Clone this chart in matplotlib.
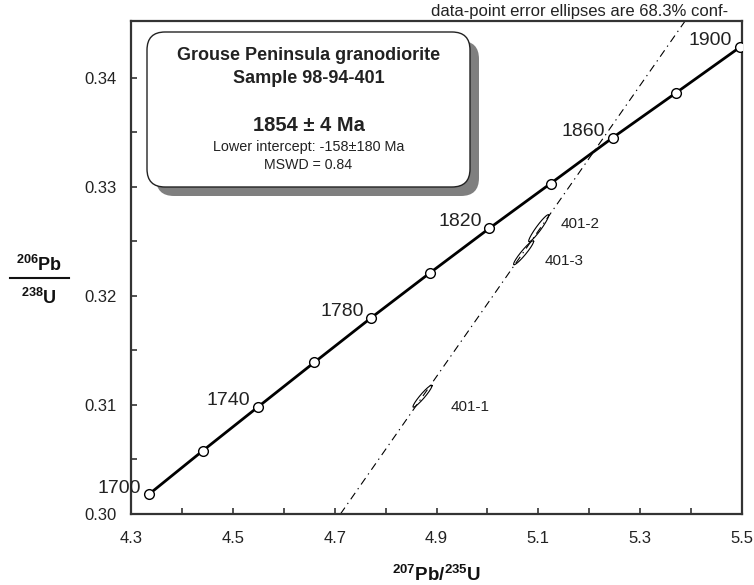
import numpy as np
import matplotlib
matplotlib.use("Agg")
import matplotlib.pyplot as plt
from matplotlib.patches import FancyBboxPatch
from matplotlib.lines import Line2D

# concordia ages (Ma) and ratios
ages = [1700, 1720, 1740, 1760, 1780, 1800, 1820, 1840, 1860, 1880, 1900]
pb207_u235 = [4.335, 4.441, 4.549, 4.660, 4.772, 4.887, 5.004, 5.124, 5.246, 5.370, 5.496]
pb206_u238 = [0.3018, 0.3058, 0.3098, 0.3139, 0.3180, 0.3221, 0.3262, 0.3303, 0.3345, 0.3386, 0.3428]
labelled_ages = [1700, 1740, 1780, 1820, 1860, 1900]

# discordia: upper and lower intercept points (207/235, 206/238)
upper_int = (5.2087, 0.33321)
lower_int = (-0.1441, -0.02421)

# analyses: centre x, centre y, sigma x, sigma y, rho
spots = ["401-1", "401-2", "401-3"]
spot_x = [4.8725, 5.1007, 5.0711]
spot_y = [0.31080, 0.32620, 0.32395]
spot_sx = [0.0187, 0.0197, 0.0197]
spot_sy = [0.00101, 0.00124, 0.00110]
spot_rho = [0.95, 0.95, 0.95]
spot_lab_x = [4.967, 5.183, 5.150]
spot_lab_y = [0.30982, 0.32661, 0.32321]

xticks = [4.3, 4.4, 4.5, 4.6, 4.7, 4.8, 4.9, 5.0, 5.1, 5.2, 5.3, 5.4, 5.5]
xticklabels = ["4.3", "", "4.5", "", "4.7", "", "4.9", "", "5.1", "", "5.3", "", "5.5"]
yticks = [0.300, 0.305, 0.310, 0.315, 0.320, 0.325, 0.330, 0.335, 0.340]
yticklabels = ["0.30", "", "0.31", "", "0.32", "", "0.33", "", "0.34"]

plt.rcParams["font.family"] = ["Liberation Sans", "DejaVu Sans"]
plt.rcParams["mathtext.fontset"] = "custom"
plt.rcParams["mathtext.rm"] = "Liberation Sans"
plt.rcParams["mathtext.bf"] = "Liberation Sans:bold"

fig = plt.figure(figsize=(7.54, 5.85), dpi=100)
ax = fig.add_axes([131 / 754, 1 - 514 / 585, 611 / 754, 493 / 585])
ax.set_xlim(4.3, 5.5)
ax.set_ylim(0.300, 0.3452)

# discordia
ax.axline(lower_int, upper_int, color="k", lw=0.8, linestyle=(0, (7, 4, 1.2, 4)), zorder=1.5)

# concordia
ax.plot(pb207_u235, pb206_u238, color="k", lw=2.0, zorder=2)
ax.plot(pb207_u235, pb206_u238, "o", ms=7, mfc="white", mec="k", mew=1.0, zorder=3)
for a, x, y in zip(ages, pb207_u235, pb206_u238):
    if a in labelled_ages:
        ax.annotate(str(a), (x, y), xytext=(-5.5, 4.5), textcoords="offset points",
                    ha="right", va="center", fontsize=14, color="#222222")

# error ellipses
t = np.linspace(0, 2 * np.pi, 200)
for name, cx, cy, sx, sy, r, lx, ly in zip(spots, spot_x, spot_y, spot_sx, spot_sy,
                                          spot_rho, spot_lab_x, spot_lab_y):
    ex = cx + sx * np.cos(t)
    ey = cy + sy * (r * np.cos(t) + np.sqrt(1 - r * r) * np.sin(t))
    ax.plot(ex, ey, color="k", lw=0.8, zorder=4)
    ax.text(lx, ly, name, ha="center", va="center", fontsize=11, color="#222222")

ax.set_xticks(xticks)
ax.set_xticklabels(xticklabels)
ax.set_yticks(yticks)
ax.set_yticklabels(yticklabels)
ax.tick_params(direction="in", length=4, width=1.2, colors="#333333", labelsize=12,
               labelcolor="#222222", top=False, right=False)
ax.tick_params(axis="x", pad=12)
ax.tick_params(axis="y", pad=10)
for s in ax.spines.values():
    s.set_linewidth(1.6)
    s.set_color("#333333")

# info box with shadow
bx, by, bw, bh = 1.47, (585 - 187) / 100, 3.23, 1.55
shadow = FancyBboxPatch((bx + 0.09, by - 0.09), bw, bh, boxstyle="round,pad=0,rounding_size=0.18",
                        transform=fig.dpi_scale_trans, fc="#7f7f7f", ec="none", zorder=5)
box = FancyBboxPatch((bx, by), bw, bh, boxstyle="round,pad=0,rounding_size=0.18",
                     transform=fig.dpi_scale_trans, fc="white", ec="#222222", lw=1.0, zorder=6)
fig.add_artist(shadow)
fig.add_artist(box)
cx = 308.5 / 754
fig.text(cx, 1 - 59.5 / 585, "Grouse Peninsula granodiorite", ha="center", va="baseline",
         fontsize=13, fontweight="bold", color="#222222", zorder=7)
fig.text(cx, 1 - 83 / 585, "Sample 98-94-401", ha="center", va="baseline",
         fontsize=13, fontweight="bold", color="#222222", zorder=7)
fig.text(cx, 1 - 131 / 585, "1854 ± 4 Ma", ha="center", va="baseline",
         fontsize=14.5, fontweight="bold", color="#222222", zorder=7)
fig.text(cx, 1 - 151 / 585, "Lower intercept: -158±180 Ma", ha="center", va="baseline",
         fontsize=10.4, color="#222222", zorder=7)
fig.text(cx, 1 - 169 / 585, "MSWD = 0.84", ha="center", va="baseline",
         fontsize=10.2, color="#222222", zorder=7)

fig.text(728 / 754, 1 - 16 / 585, "data-point error ellipses are 68.3% conf-", ha="right",
         va="baseline", fontsize=12, color="#222222")

# axis labels
fig.text(436 / 754, 1 - 581 / 585, r"$^{\mathbf{207}}\mathbf{Pb/}^{\mathbf{235}}\mathbf{U}$",
         ha="center", va="baseline", fontsize=13.5, color="#111111")
fig.text(39 / 754, 1 - 271 / 585, r"$^{\mathbf{206}}\mathbf{Pb}$",
         ha="center", va="baseline", fontsize=13, color="#111111")
fig.text(39 / 754, 1 - 304 / 585, r"$^{\mathbf{238}}\mathbf{U}$",
         ha="center", va="baseline", fontsize=13, color="#111111")
fig.add_artist(Line2D([10 / 754, 69 / 754], [1 - 278 / 585] * 2, transform=fig.transFigure,
                      color="#111111", lw=1.5))

fig.savefig("out.png", dpi=100)
